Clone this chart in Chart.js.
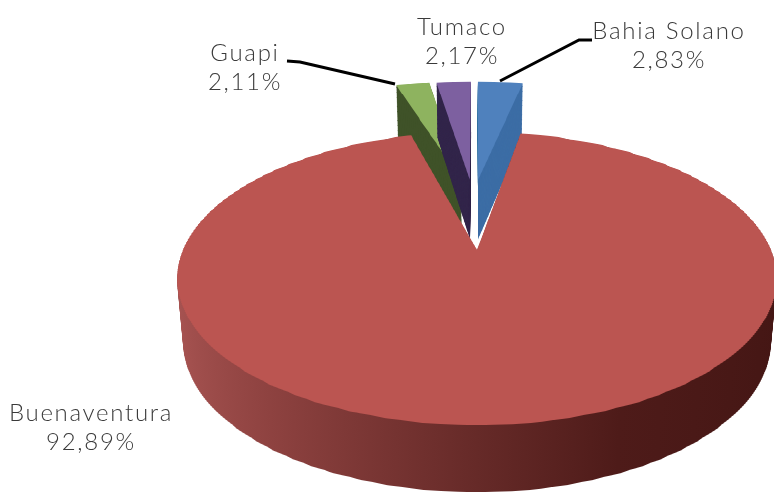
<!DOCTYPE html>
<html>
<head>
<meta charset="utf-8">
<script src="https://cdn.jsdelivr.net/npm/chart.js@4"></script>
<style>
  html, body { margin: 0; padding: 0; background: #fff; }
  canvas { display: block; }
</style>
</head>
<body>
<canvas id="pieChart" width="774" height="492"></canvas>
<script>
const categories = ['Bahia Solano', 'Buenaventura', 'Guapi', 'Tumaco'];
const shares = [2.83, 92.89, 2.11, 2.17];

const topColors = ['#4f81bd', '#bb5551', '#8eb35f', '#7d60a0'];
const wallColors = ['#3c6da5', null, '#3f5228', '#32254a'];
const redWallStops = [[0, '#a85452'], [0.2, '#8e4240'], [0.5, '#662a28'], [0.7, '#4e1b19'], [1, '#441614']];

// how far each slice is pulled out of the pie, in pie radii
const sliceShift = [[0.0036, -0.55], [0, 0], [-0.052, -0.55], [-0.024, -0.55]];
const drawOrder = [2, 3, 0, 1];

// label centre x, first line y, leader line
const labelPos = [
    { x: 669, y: 31, line: [[592, 40], [579, 40], [500, 81]] },
    { x: 91, y: 413, line: null },
    { x: 245, y: 53, line: [[287, 61], [300, 62], [395, 84]] },
    { x: 462, y: 27, line: null }
];

// perspective of the pie plane
const AX = 477, AY = 250, SX = 294, SY = 141, K = 0.1945;
const PULLED_WIDEN = 1.12;

function depthAt(v) {
    return 62 + 5 * v;
}

function drawLayer(ctx, arc, shift, t, vLo, vHi) {
    const R = arc.outerRadius;
    const n = Math.ceil((vHi - vLo) * 90);
    const dv = (vHi - vLo) / n;
    const widen = shift[1] < 0 ? PULLED_WIDEN : 1;
    const yAt = function(v) {
        return Math.round(AY + SY * v / (1 - K * v) + t * depthAt(v));
    };
    for (let i = 0; i < n; i++) {
        const v0 = vLo + i * dv;
        const v1 = v0 + dv;
        const y0 = yAt(v0);
        const y1 = yAt(v1);
        if (y1 <= y0) continue;
        const s = SX / (1 - K * (v0 + v1) / 2) * (1 - 0.02 * t) * widen;
        const d = (y1 - y0) / (dv * R);
        ctx.save();
        ctx.beginPath();
        ctx.rect(0, y0, 774, y1 - y0);
        ctx.clip();
        ctx.transform(s / R, 0, 0, d, AX + shift[0] * s - arc.x * s / R,
            y0 + (shift[1] - v0) * (y1 - y0) / dv - arc.y * d);
        arc.draw(ctx);
        ctx.restore();
    }
}

const pie3d = {
    id: 'pie3d',
    beforeDatasetsDraw(chart) {
        const ctx = chart.ctx;
        const arcs = chart.getDatasetMeta(0).data;
        drawOrder.forEach(function(i) {
            const arc = arcs[i];
            const R = arc.outerRadius;
            const shift = sliceShift[i];
            const vLo = i === 1 ? -1 : shift[1] - 1.02;
            const vHi = i === 1 ? 1 : shift[1] + 0.04;
            let wall = wallColors[i];
            if (!wall) {
                wall = ctx.createLinearGradient(arc.x - R, 0, arc.x + R, 0);
                redWallStops.forEach(function(st) { wall.addColorStop(st[0], st[1]); });
            }
            const saved = arc.options;
            arc.options = {
                backgroundColor: wall, borderColor: wall, borderWidth: 0, offset: 0, spacing: 0,
                borderRadius: 0, borderAlign: 'center', borderJoinStyle: 'round', circular: true
            };
            for (let h = 66; h > 0; h--) {
                drawLayer(ctx, arc, shift, h / 66, vLo, vHi);
            }
            arc.options = saved;
            drawLayer(ctx, arc, shift, 0, vLo, vHi);
        });
        return false;
    },
    afterDraw(chart) {
        const ctx = chart.ctx;
        ctx.save();
        ctx.font = '300 24px Lato';
        ctx.letterSpacing = '1.7px';
        ctx.fillStyle = '#3a3a3a';
        ctx.textAlign = 'center';
        ctx.textBaseline = 'middle';
        categories.forEach(function(name, i) {
            const p = labelPos[i];
            ctx.fillText(name, p.x, p.y);
            ctx.fillText(shares[i].toFixed(2).replace('.', ',') + '%', p.x, p.y + 29);
            if (p.line) {
                ctx.strokeStyle = '#000';
                ctx.lineWidth = 3;
                ctx.beginPath();
                p.line.forEach(function(pt, j) {
                    if (j === 0) ctx.moveTo(pt[0], pt[1]);
                    else ctx.lineTo(pt[0], pt[1]);
                });
                ctx.stroke();
            }
        });
        ctx.restore();
    }
};

new Chart(document.getElementById('pieChart'), {
    type: 'pie',
    data: {
        labels: categories,
        datasets: [{
            data: shares,
            backgroundColor: topColors,
            borderWidth: 0
        }]
    },
    options: {
        responsive: false,
        animation: false,
        plugins: {
            legend: { display: false },
            tooltip: { enabled: false }
        }
    },
    plugins: [pie3d]
});
</script>
</body>
</html>
